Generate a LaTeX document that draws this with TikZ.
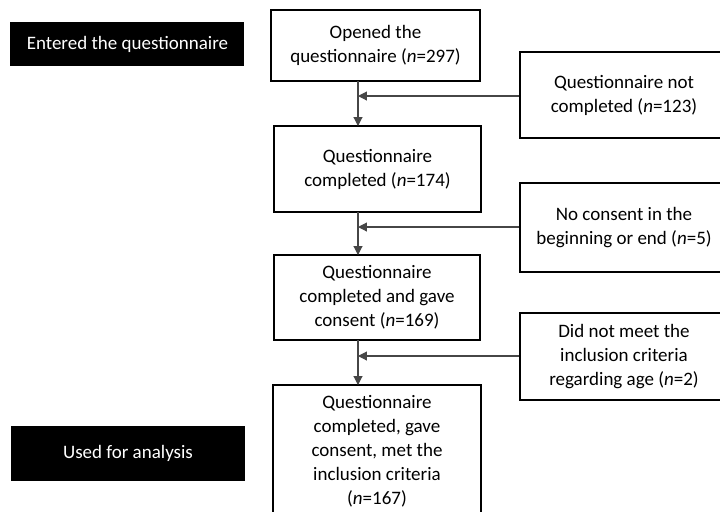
\documentclass[tikz,border=0pt]{standalone}
\usepackage{fontspec}
\setmainfont{Carlito}
\usepackage{xcolor}
\usepackage{tikz}
\usetikzlibrary{arrows.meta, positioning}
\definecolor{linegray}{RGB}{70,70,70}
\tikzset{
  flowbox/.style={draw=black, line width=0.75pt, fill=white, align=center, inner sep=0pt},
  labelbox/.style={fill=black, text=white, align=center, inner sep=0pt},
  flowline/.style={linegray, line width=0.55pt, -{Triangle[length=4.5pt, width=4.5pt]}}
}
\newcommand{\fsz}{\fontsize{9.5pt}{12pt}\selectfont}

\begin{document}
\begin{tikzpicture}[x=0.5pt, y=-0.5pt, every node/.style={font=\fsz}]
            \useasboundingbox (0,0) rectangle (720,511);
            \clip (0,0) rectangle (720,511);
            \fill[white] (0,0) rectangle (720,511);
            % stage labels
            \node[labelbox, minimum width=117pt, minimum height=22pt] (entered) at (127.5,44) {Entered the questionnaire};
            \node[labelbox, minimum width=117pt, minimum height=27.5pt] (used) at (128,453.5) {Used for analysis};
            % main flow
            \node[flowbox, minimum width=104.5pt, minimum height=35.5pt] (opened) at (375.5,45.5) {Opened the\\questionnaire (\textit{n}=297)};
            \node[flowbox, minimum width=103.5pt, minimum height=43pt] (completed) at (377.5,169) {Questionnaire\\completed (\textit{n}=174)};
            \node[flowbox, minimum width=103pt, minimum height=42.5pt] (consent) at (377,297.5) {Questionnaire\\completed and gave\\consent (\textit{n}=169)};
            \node[flowbox, minimum width=104pt, minimum height=66.5pt] (analysis) at (377,451.5) {Questionnaire\\completed, gave\\consent, met the\\inclusion criteria\\(\textit{n}=167)};
            % exclusions
            \node[flowbox, minimum width=104pt, minimum height=43pt] (notdone) at (624,95) {Questionnaire not\\completed (\textit{n}=123)};
            \node[flowbox, minimum width=104pt, minimum height=44.5pt] (noconsent) at (624,227.5) {No consent in the\\beginning or end (\textit{n}=5)};
            \node[flowbox, minimum width=104pt, minimum height=43.5pt] (age) at (624,356.5) {Did not meet the\\inclusion criteria\\regarding age (\textit{n}=2)};
            % junctions on the main line
            \coordinate (t1) at (358,81);
            \coordinate (b1) at (358,126);
            \coordinate (j1) at (358,96);
            \coordinate (t2) at (358,212);
            \coordinate (b2) at (358,255);
            \coordinate (j2) at (358,227);
            \coordinate (t3) at (358,340);
            \coordinate (b3) at (358,385);
            \coordinate (j3) at (358,356);
            \draw[flowline] (t1) -- (b1);
            \draw[flowline] (t2) -- (b2);
            \draw[flowline] (t3) -- (b3);
            \draw[flowline] (notdone.west |- j1) -- (j1);
            \draw[flowline] (noconsent.west |- j2) -- (j2);
            \draw[flowline] (age.west |- j3) -- (j3);
        \end{tikzpicture}
\end{document}
